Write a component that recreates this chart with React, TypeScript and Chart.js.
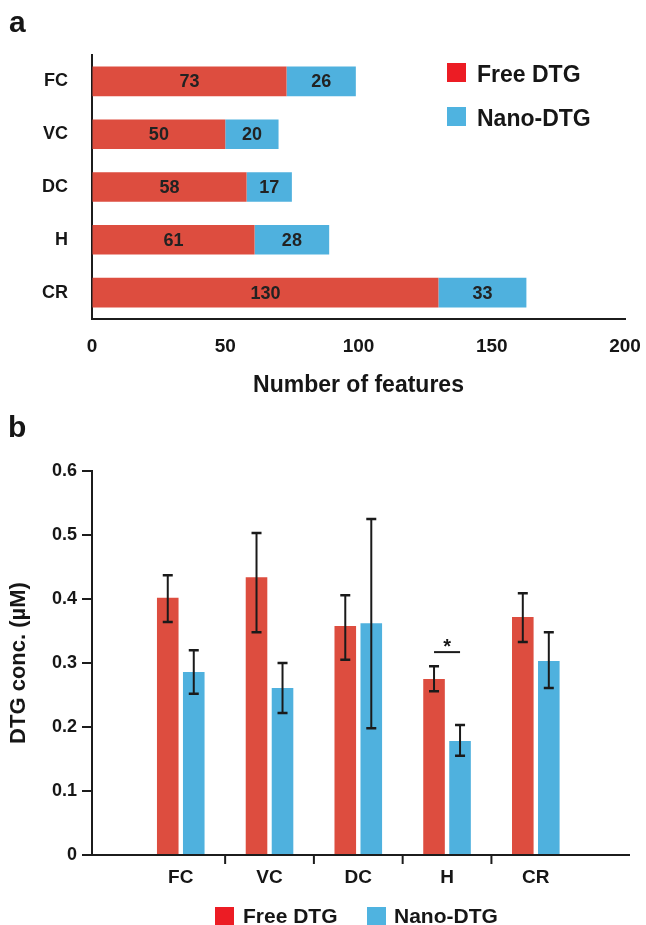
import React, { useEffect, useRef } from "react";
import { Chart, registerables } from "chart.js";

Chart.register(...registerables);

// ---------- data ----------
const regions = ["FC", "VC", "DC", "H", "CR"];
const seriesNames = ["Free DTG", "Nano-DTG"];

// panel a: number of features
const freeFeatures = [73, 50, 58, 61, 130];
const nanoFeatures = [26, 20, 17, 28, 33];
const featureTicks = [0, 50, 100, 150, 200];

// panel b: DTG concentration (µM) with error bar limits
const freeConc = [0.402, 0.434, 0.358, 0.275, 0.372];
const freeErrHigh = [0.437, 0.503, 0.406, 0.295, 0.409];
const freeErrLow = [0.364, 0.348, 0.305, 0.256, 0.333];
const nanoConc = [0.286, 0.261, 0.362, 0.178, 0.303];
const nanoErrHigh = [0.32, 0.3, 0.525, 0.203, 0.348];
const nanoErrLow = [0.252, 0.222, 0.198, 0.155, 0.261];
const concTicks = [0, 0.1, 0.2, 0.3, 0.4, 0.5, 0.6];

// significance marker (region index, level in µM, text)
const sigIndex = [3];
const sigLevel = [0.317];
const sigText = ["*"];

// ---------- styles ----------
const FONT = '"Liberation Sans", Arial, Helvetica, sans-serif';
const RED = "#DD4D3F";
const BLUE = "#4FB1DE";
const LEG_RED = "#EC1C24";
const LEG_BLUE = "#4FB3E0";
const TXT = "#161616";
const AX = "#1c1c1c";

Chart.defaults.font.family = FONT;

export default function App() {
  const topRef = useRef<HTMLCanvasElement>(null);
  const botRef = useRef<HTMLCanvasElement>(null);

  useEffect(() => {
    const barLabels = {
      id: "barLabels",
      afterDatasetsDraw(chart: any) {
        const ctx = chart.ctx;
        ctx.save();
        ctx.font = `bold 18px ${FONT}`;
        ctx.fillStyle = "#222";
        ctx.textAlign = "center";
        ctx.textBaseline = "middle";
        chart.data.datasets.forEach((ds: any, di: number) => {
          const meta = chart.getDatasetMeta(di);
          meta.data.forEach((el: any, i: number) => {
            const { x, y, base } = el.getProps(["x", "y", "base"], true);
            ctx.fillText(String(ds.data[i]), (x + base) / 2, y + 1);
          });
        });
        ctx.restore();
      },
    };

    const top = new Chart(topRef.current as HTMLCanvasElement, {
      type: "bar",
      data: {
        labels: regions,
        datasets: [
          { label: seriesNames[0], data: freeFeatures, backgroundColor: RED, barPercentage: 0.56, categoryPercentage: 1 },
          { label: seriesNames[1], data: nanoFeatures, backgroundColor: BLUE, barPercentage: 0.56, categoryPercentage: 1 },
        ],
      },
      options: {
        indexAxis: "y",
        responsive: false,
        animation: false,
        layout: { padding: { top: 55, right: 21, bottom: 0, left: 0 } },
        plugins: { legend: { display: false }, tooltip: { enabled: false } },
        scales: {
          x: {
            type: "linear",
            stacked: true,
            min: featureTicks[0],
            max: featureTicks[featureTicks.length - 1],
            afterBuildTicks: (s: any) => {
              s.ticks = featureTicks.map((v) => ({ value: v }));
            },
            ticks: { font: { size: 19, weight: "bold" }, color: TXT, padding: 3 },
            grid: {
              display: true,
              drawOnChartArea: false,
              drawTicks: true,
              tickLength: 13,
              color: "rgba(0,0,0,0)",
            },
            border: { display: true, color: AX, width: 2 },
            title: {
              display: true,
              text: "Number of features",
              font: { size: 23, weight: "bold" },
              color: TXT,
              padding: { top: 0, bottom: 3 },
            },
            afterFit: (s: any) => {
              s.height = 83;
            },
          },
          y: {
            stacked: true,
            ticks: { font: { size: 18, weight: "bold" }, color: TXT, padding: 24 },
            grid: { display: false, drawTicks: false },
            border: { display: true, color: AX, width: 2 },
            afterFit: (s: any) => {
              s.width = 92;
            },
          },
        },
      } as any,
      plugins: [barLabels],
    });

    const errBars = {
      id: "errBars",
      afterDatasetsDraw(chart: any) {
        const ctx = chart.ctx;
        const ys = chart.scales.y;
        const limits = [
          [freeErrLow, freeErrHigh],
          [nanoErrLow, nanoErrHigh],
        ];
        ctx.save();
        ctx.strokeStyle = "#1a1a1a";
        ctx.lineWidth = 2;
        limits.forEach(([lo, hi], di) => {
          const meta = chart.getDatasetMeta(di);
          meta.data.forEach((el: any, i: number) => {
            const x = el.x;
            const yl = ys.getPixelForValue(lo[i]);
            const yh = ys.getPixelForValue(hi[i]);
            ctx.beginPath();
            ctx.moveTo(x, yl);
            ctx.lineTo(x, yh);
            ctx.stroke();
            ctx.lineWidth = 2.5;
            ctx.beginPath();
            ctx.moveTo(x - 5, yl);
            ctx.lineTo(x + 5, yl);
            ctx.moveTo(x - 5, yh);
            ctx.lineTo(x + 5, yh);
            ctx.stroke();
            ctx.lineWidth = 2;
          });
        });
        // significance marker
        sigIndex.forEach((idx, k) => {
          const x1 = chart.getDatasetMeta(0).data[idx].x;
          const x2 = chart.getDatasetMeta(1).data[idx].x;
          const yy = ys.getPixelForValue(sigLevel[k]);
          ctx.beginPath();
          ctx.moveTo(x1, yy);
          ctx.lineTo(x2, yy);
          ctx.stroke();
          ctx.fillStyle = TXT;
          ctx.font = `bold 20px ${FONT}`;
          ctx.textAlign = "center";
          ctx.textBaseline = "alphabetic";
          ctx.fillText(sigText[k], (x1 + x2) / 2, yy + 1);
        });
        ctx.restore();
      },
    };

    const boundaryTicks = {
      id: "boundaryTicks",
      afterDraw(chart: any) {
        const ctx = chart.ctx;
        const xs = chart.scales.x;
        const b = chart.chartArea.bottom;
        ctx.save();
        ctx.strokeStyle = AX;
        ctx.lineWidth = 2;
        for (let i = 1; i < regions.length; i++) {
          const px = xs.getPixelForValue(i + 0.5);
          ctx.beginPath();
          ctx.moveTo(px, b);
          ctx.lineTo(px, b + 9);
          ctx.stroke();
        }
        ctx.restore();
      },
    };

    const bot = new Chart(botRef.current as HTMLCanvasElement, {
      type: "bar",
      data: {
        datasets: [
          {
            label: seriesNames[0],
            data: regions.map((_, i) => ({ x: i + 1, y: freeConc[i] })),
            backgroundColor: RED,
            barPercentage: 0.83,
            categoryPercentage: 0.586,
          },
          {
            label: seriesNames[1],
            data: regions.map((_, i) => ({ x: i + 1, y: nanoConc[i] })),
            backgroundColor: BLUE,
            barPercentage: 0.83,
            categoryPercentage: 0.586,
          },
        ],
      },
      options: {
        responsive: false,
        animation: false,
        layout: { padding: { top: 69, right: 17, bottom: 0, left: 0 } },
        plugins: { legend: { display: false }, tooltip: { enabled: false } },
        scales: {
          x: {
            type: "linear",
            offset: false,
            min: 0,
            max: 6.05,
            afterBuildTicks: (s: any) => {
              s.ticks = regions.map((_, i) => ({ value: i + 1 }));
            },
            ticks: {
              autoSkip: false,
              callback: (v: any) => regions[Math.round(Number(v)) - 1] ?? "",
              font: { size: 19, weight: "bold" },
              color: TXT,
              padding: 11,
            },
            grid: { display: false, drawTicks: false, offset: false },
            border: { display: true, color: AX, width: 2 },
            afterFit: (s: any) => {
              s.height = 70;
            },
          },
          y: {
            min: concTicks[0],
            max: concTicks[concTicks.length - 1],
            afterBuildTicks: (s: any) => {
              s.ticks = concTicks.map((v) => ({ value: v }));
            },
            ticks: {
              font: { size: 18, weight: "bold" },
              color: TXT,
              padding: 5,
              callback: (v: any) => String(Math.round(Number(v) * 10) / 10),
            },
            grid: { display: true, drawOnChartArea: false, drawTicks: true, tickLength: 10, color: AX, lineWidth: 2 },
            border: { display: true, color: AX, width: 2 },
            title: {
              display: true,
              text: "DTG conc. (µM)",
              font: { size: 22, weight: "bold" },
              color: TXT,
              padding: { top: 6, bottom: 0 },
            },
            afterFit: (s: any) => {
              s.width = 92;
            },
          },
        },
      } as any,
      plugins: [errBars, boundaryTicks],
    });

    return () => {
      top.destroy();
      bot.destroy();
    };
  }, []);

  const letter: React.CSSProperties = {
    position: "absolute",
    fontFamily: FONT,
    fontWeight: "bold",
    fontSize: 30,
    lineHeight: "30px",
    color: TXT,
    margin: 0,
  };
  const legText = (size: number): React.CSSProperties => ({
    position: "absolute",
    fontFamily: FONT,
    fontWeight: "bold",
    fontSize: size,
    lineHeight: `${size}px`,
    color: TXT,
    whiteSpace: "nowrap",
  });
  const sq = (left: number, top: number, color: string): React.CSSProperties => ({
    position: "absolute",
    left,
    top,
    width: 19,
    height: 19,
    background: color,
  });

  return (
    <div style={{ position: "absolute", left: 0, top: 0, width: 646, height: 925, background: "#fff", overflow: "hidden" }}>
      <canvas ref={topRef} width={646} height={402} style={{ position: "absolute", left: 0, top: 0 }} />
      <canvas ref={botRef} width={646} height={523} style={{ position: "absolute", left: 0, top: 402 }} />

      <div style={{ ...letter, left: 9, top: 7 }}>a</div>
      <div style={{ ...letter, left: 8, top: 412 }}>b</div>

      {/* legend panel a */}
      <div style={sq(447, 63, LEG_RED)} />
      <div style={{ ...legText(23), left: 477, top: 62.5 }}>{seriesNames[0]}</div>
      <div style={sq(447, 107, LEG_BLUE)} />
      <div style={{ ...legText(23), left: 477, top: 106.5 }}>{seriesNames[1]}</div>

      {/* legend panel b */}
      <div style={sq(215, 907, LEG_RED)} />
      <div style={{ ...legText(21), left: 243, top: 905 }}>{seriesNames[0]}</div>
      <div style={sq(367, 907, LEG_BLUE)} />
      <div style={{ ...legText(21), left: 394, top: 905 }}>{seriesNames[1]}</div>
    </div>
  );
}
